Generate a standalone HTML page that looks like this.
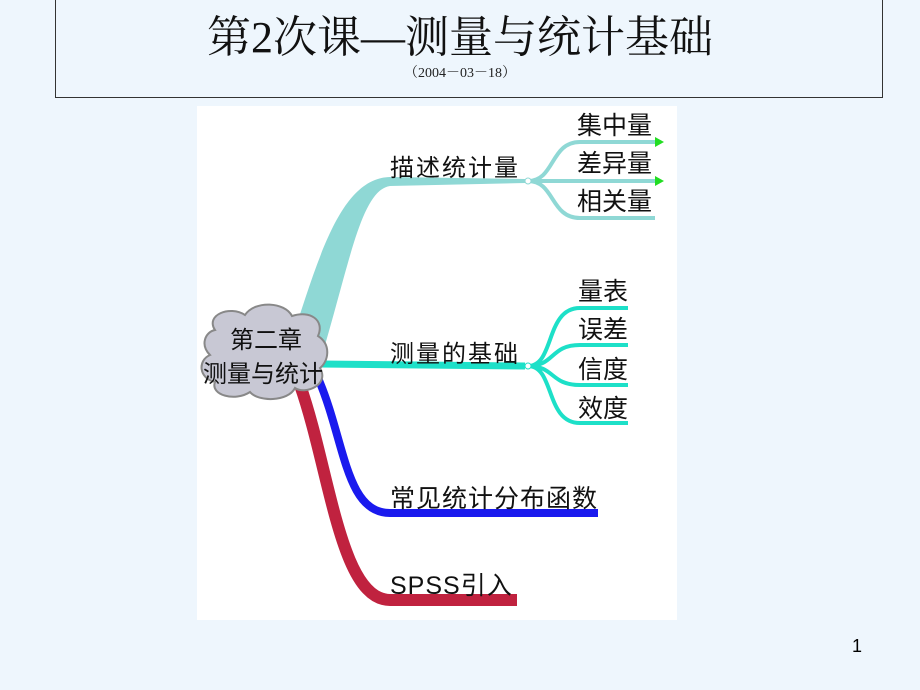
<!DOCTYPE html>
<html><head><meta charset="utf-8"><style>
body{margin:0;width:920px;height:690px;background:#eef6fd;position:relative;overflow:hidden;font-family:"Liberation Sans","Noto Sans CJK SC",sans-serif}
#tb{position:absolute;left:55px;top:-2px;width:826px;height:98px;border:1px solid #333;}
#t{position:absolute;left:0;width:920px;top:1px;text-align:center;font:44px "Liberation Serif","Noto Serif CJK SC",serif;color:#111}
#s{position:absolute;left:0;width:920px;top:62px;text-align:center;font:14px "Liberation Serif","Noto Serif CJK SC",serif;color:#222}
#pn{position:absolute;left:852px;top:636px;font-size:18px}
svg{position:absolute;left:0;top:0}
</style></head><body>
<div id="tb"></div>
<div id="t">第2次课—测量与统计基础</div>
<div id="s">（2004－03－18）</div>
<div id="pn">1</div>
<svg width="920" height="690">
<rect x="197" y="106" width="480" height="514" fill="#fff"/>
<path d="M290,345 C318,260 340,178 390,177 L525,179 L525,183 L390,186 C362,190 350,260 325,345 Z" fill="#8fd8d5"/>
<g fill="none" stroke-linecap="butt">
<path d="M528,181 C555,181 550,142 580,142 L655,142 M528,181 L655,181 M528,181 C555,181 550,218 580,218 L655,218" stroke="#8fd8d5" stroke-width="4"/>
<path d="M320,364 L525,366" stroke="#1de0c8" stroke-width="7"/>
<path d="M528,366 C555,366 545,308 580,308 L628,308 M528,366 C555,366 550,345 580,345 L628,345 M528,366 C555,366 550,385 580,385 L628,385 M528,366 C555,366 545,423 580,423 L628,423" stroke="#1de0c8" stroke-width="4"/>
<path d="M318,378 C345,440 345,513 390,513 L598,513" stroke="#1a1aee" stroke-width="8"/>
<path d="M300,385 C330,470 340,600 390,600 L517,600" stroke="#c0223f" stroke-width="12"/>
</g>
<circle cx="528" cy="181" r="3" fill="#fff" stroke="#8fd8d5"/>
<circle cx="528" cy="366" r="3" fill="#fff" stroke="#1de0c8"/>
<polygon points="655,137 664,142 655,147" fill="#22dd22"/>
<polygon points="655,176 664,181 655,186" fill="#22dd22"/>
<path d="M215,330 C205,315 230,305 245,315 C255,300 285,302 292,316 C310,310 325,320 318,336 C332,345 328,362 320,368 C330,385 305,395 295,388 C288,402 258,402 250,392 C235,402 210,395 215,382 C198,378 198,360 210,355 C200,345 205,332 215,330Z" fill="#c8c8d4" stroke="#888" stroke-width="2"/>
<g font-size="24" fill="#111" font-family="Liberation Sans,Noto Sans CJK SC,sans-serif">
<text x="230" y="348">第二章</text>
<text x="203" y="382">测量与统计</text>
<text x="390" y="176" letter-spacing="2">描述统计量</text>
<text x="390" y="362" letter-spacing="2">测量的基础</text>
<text x="390" y="507" font-size="25" letter-spacing="1">常见统计分布函数</text>
<text x="390" y="594" font-size="25" letter-spacing="1">SPSS引入</text>
<g font-size="25">
<text x="577" y="134">集中量</text>
<text x="577" y="172">差异量</text>
<text x="577" y="210">相关量</text>
<text x="578" y="300">量表</text>
<text x="578" y="338">误差</text>
<text x="578" y="378">信度</text>
<text x="578" y="417">效度</text>
</g></g>
</svg>
</body></html>
